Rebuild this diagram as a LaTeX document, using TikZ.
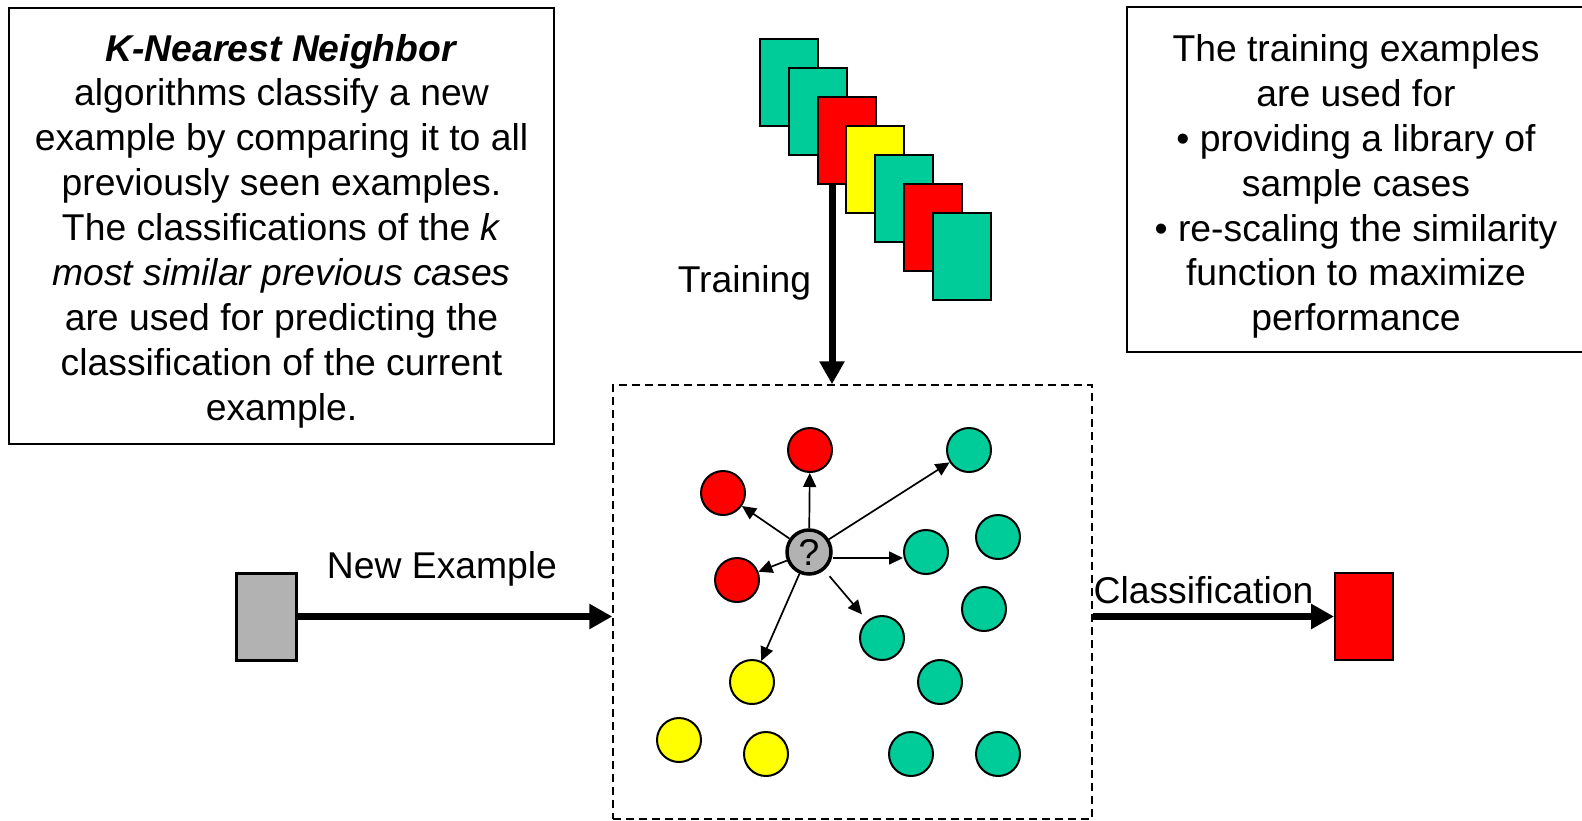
\documentclass[tikz,border=0pt]{standalone}
\usepackage{fontspec}
\setmainfont{Liberation Sans}
\usetikzlibrary{arrows.meta}
\definecolor{kgreen}{HTML}{00CC99}
\definecolor{kgray}{HTML}{B2B2B2}
\definecolor{kred}{HTML}{FF0000}
\definecolor{kyellow}{HTML}{FFFF00}
\begin{document}
\begin{tikzpicture}[x=1pt,y=-1pt,
  txt/.style={font=\fontsize{37.3}{44.9}\selectfont},
  framebox/.style={draw, line width=1.5pt, inner sep=0pt},
  textblock/.style={align=center, inner sep=0pt, txt},
  card/.style={draw, line width=2pt, minimum width=58pt, minimum height=87pt, inner sep=0pt},
  dot/.style={circle, draw, line width=2pt, minimum size=44pt, inner sep=0pt},
  big/.style={line width=7pt, -{Triangle[length=23pt,width=24pt]}},
  small/.style={line width=1.7pt, -{Triangle[length=14pt,width=13pt]}},
  lbl/.style={txt, inner sep=0pt, anchor=base}]
\useasboundingbox (0,0) rectangle (1582,820);

% text boxes
\node[framebox, minimum width=545pt, minimum height=436pt] (lbox) at (281.5,226) {};
\node[textblock] (ltext) at (281.5,231)
  {\textbf{\textit{K-Nearest Neighbor}}\\
   algorithms classify a new\\
   example by comparing it to all\\
   previously seen examples.\\
   The classifications of the \textit{k}\\
   \textit{most similar previous cases}\\
   are used for predicting the\\
   classification of the current\\
   example.};
\node[framebox, minimum width=458pt, minimum height=345pt] (rbox) at (1356,179.5) {};
\node[textblock] (rtext) at (1356,186.5)
  {The training examples\\
   are used for\\
   • providing a library of\\
   sample cases\\
   • re-scaling the similarity\\
   function to maximize\\
   performance};

% dashed area
\node[draw, dash pattern=on 8pt off 5pt, line width=1.5pt, minimum width=479pt, minimum height=434pt, inner sep=0pt] (dbox) at (852.5,602) {};

% training arrow
\coordinate (trs) at (832,183);
\draw[big] (trs) -- (trs |- dbox.north);
\node[lbl] (ltrain) at (744.5,292) {Training};

% training cards
\node[card, fill=kgreen]  (c1) at (789,82.5) {};
\node[card, fill=kgreen]  (c2) at (818,111.5) {};
\node[card, fill=kred]    (c3) at (847,140.5) {};
\node[card, fill=kyellow] (c4) at (875,169.5) {};
\node[card, fill=kgreen]  (c5) at (904,198.5) {};
\node[card, fill=kred]    (c6) at (933,227.5) {};
\node[card, fill=kgreen]  (c7) at (962,256.5) {};

% new example
\node[card, fill=kgray, minimum width=60pt, line width=3pt] (gbox) at (266,616.5) {};
\draw[big] (gbox.east) -- (dbox.west |- gbox.east);
\node[lbl] (lnew) at (442,578) {New Example};

% classification
\node[card, fill=kred] (obox) at (1364,616.5) {};
\draw[big] (dbox.east |- obox.west) -- (obox.west);
\node[lbl] (lcls) at (1203.5,603) {Classification};

% points
\node[dot, fill=kred] (r1) at (810,450) {};
\node[dot, fill=kred] (r2) at (723,493) {};
\node[dot, fill=kred] (r3) at (737,580) {};
\node[dot, fill=kgreen] (g1) at (969,450) {};
\node[dot, fill=kgreen] (g2) at (926,552) {};
\node[dot, fill=kgreen] (g3) at (998,537) {};
\node[dot, fill=kgreen] (g4) at (984,609) {};
\node[dot, fill=kgreen] (g5) at (882,638) {};
\node[dot, fill=kgreen] (g6) at (940,682) {};
\node[dot, fill=kgreen] (g7) at (911,754) {};
\node[dot, fill=kgreen] (g8) at (998,754) {};
\node[dot, fill=kyellow] (y1) at (752,682) {};
\node[dot, fill=kyellow] (y2) at (679,740) {};
\node[dot, fill=kyellow] (y3) at (766,754) {};

\node[dot, fill=kgray, line width=3.5pt, txt] (q) at (809,552) {?};

% neighbour arrows
\draw[small] (q) -- (r1);
\draw[small] (q) -- (r2);
\draw[small] (q) -- (r3);
\draw[small] (q) -- (g1);
\draw[small] ([yshift=-6pt]q.east) -- ([yshift=-6pt]g2.west);
\draw[small, shorten <=8pt, shorten >=8pt] (q) -- (g5);
\draw[small] (q) -- (y1);
\end{tikzpicture}
\end{document}
